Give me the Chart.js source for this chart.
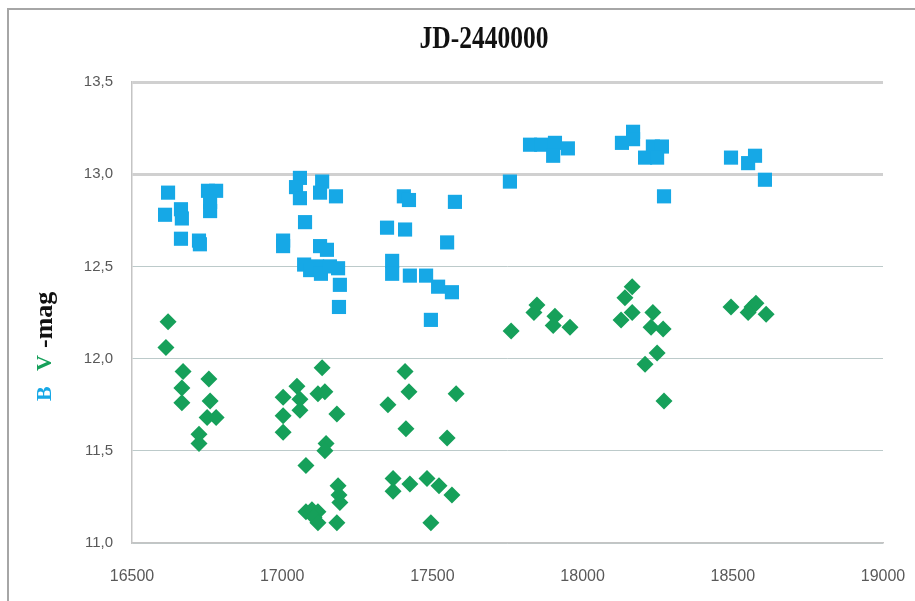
<!DOCTYPE html>
<html>
<head>
<meta charset="utf-8">
<script src="https://cdn.jsdelivr.net/npm/chart.js@4/dist/chart.umd.min.js"></script>
<style>
html,body{margin:0;padding:0;background:#fff;}
#wrap{width:915px;height:601px;position:relative;}
</style>
</head>
<body>
<div id="wrap"><canvas id="c" width="915" height="601"></canvas></div>
<script>
// ---- data ----
const chartTitle = "JD-2440000";
const yTitleParts = ["B", "V", "-mag"];
const xTicks = [16500, 17000, 17500, 18000, 18500, 19000];
const yTicks = [11.0, 11.5, 12.0, 12.5, 13.0, 13.5];

const bJD = [16620,16610,16663,16666,16663,16723,16726,16753,16780,16760,16760,
  17059,17046,17059,17133,17126,17179,17076,17003,17003,17126,17149,17073,17093,17116,17129,17159,17186,17192,17189,
  17405,17422,17575,17349,17409,17549,17366,17366,17425,17479,17519,17565,17495,
  17758,17825,17862,17908,17902,17951,
  18131,18168,18168,18208,18234,18264,18248,18271,
  18494,18551,18574,18607];
const bMag = [12.90,12.78,12.81,12.76,12.65,12.64,12.62,12.91,12.91,12.85,12.80,
  12.98,12.93,12.87,12.96,12.90,12.88,12.74,12.64,12.61,12.61,12.59,12.51,12.48,12.50,12.46,12.50,12.49,12.40,12.28,
  12.88,12.86,12.85,12.71,12.70,12.63,12.53,12.46,12.45,12.45,12.39,12.36,12.21,
  12.96,13.16,13.16,13.17,13.10,13.14,
  13.17,13.23,13.19,13.09,13.15,13.15,13.09,12.88,
  13.09,13.06,13.10,12.97];

const vJD = [16620,16613,16670,16666,16666,16756,16760,16750,16780,16723,16723,
  17133,17049,17003,17059,17059,17119,17142,17003,17003,17182,17146,17142,17079,17186,17189,17192,17079,17099,17119,17106,17119,17182,
  17409,17422,17352,17579,17412,17549,17369,17369,17425,17482,17522,17565,17495,
  17762,17848,17838,17908,17902,17958,
  18165,18141,18165,18128,18234,18228,18268,18248,18208,18271,
  18494,18564,18551,18577,18611];
const vMag = [12.20,12.06,11.93,11.84,11.76,11.89,11.77,11.68,11.68,11.59,11.54,
  11.95,11.85,11.79,11.78,11.72,11.81,11.82,11.69,11.60,11.70,11.54,11.50,11.42,11.31,11.26,11.22,11.17,11.18,11.17,11.14,11.11,11.11,
  11.93,11.82,11.75,11.81,11.62,11.57,11.35,11.28,11.32,11.35,11.31,11.26,11.11,
  12.15,12.29,12.25,12.23,12.18,12.17,
  12.39,12.33,12.25,12.21,12.25,12.17,12.16,12.03,11.97,11.77,
  12.28,12.28,12.25,12.30,12.24];

const BLUE = 'rgb(22,168,230)';
const GREEN = 'rgb(22,160,90)';

const toPts = (xs, ys) => xs.map((x, i) => ({x: x, y: ys[i]}));

const decor = {
  id: 'decor',
  beforeDraw(chart) {
    const ctx = chart.ctx;
    ctx.save();
    ctx.fillStyle = '#fff';
    ctx.fillRect(0, 0, chart.width, chart.height);
    ctx.strokeStyle = '#a6a6a6';
    ctx.lineWidth = 2;
    ctx.beginPath();
    ctx.moveTo(8, 700); ctx.lineTo(8, 9); ctx.lineTo(1000, 9);
    ctx.stroke();
    ctx.restore();
  },
  afterDraw(chart) {
    const ctx = chart.ctx;
    ctx.save();
    // title
    ctx.fillStyle = '#111';
    ctx.font = 'bold 30px "Liberation Serif"';
    ctx.textAlign = 'center';
    ctx.textBaseline = 'middle';
    ctx.translate(484, 40);
    ctx.scale(0.85, 1.05);
    ctx.fillText(chartTitle, 0, 0);
    ctx.restore();
    // y title
    ctx.save();
    ctx.translate(45, 0);
    ctx.rotate(-Math.PI / 2);
    ctx.textBaseline = 'middle';
    ctx.textAlign = 'left';
    const cols = [BLUE, GREEN, '#111'];
    const starts = [-401, -371, -348];
    const sizes = [22, 22, 26];
    yTitleParts.forEach((t, i) => {
      ctx.font = 'bold ' + sizes[i] + 'px "Liberation Serif"';
      ctx.fillStyle = cols[i];
      ctx.fillText(t, starts[i], 0);
    });
    ctx.restore();
  }
};

new Chart(document.getElementById('c'), {
  type: 'scatter',
  data: {
    datasets: [
      { label: 'B', data: toPts(bJD, bMag), pointStyle: 'rect', pointRadius: 10, pointHoverRadius: 10,
        backgroundColor: BLUE, borderWidth: 0, borderColor: BLUE },
      { label: 'V', data: toPts(vJD, vMag), pointStyle: 'rectRot', pointRadius: 8.5, pointHoverRadius: 8.5,
        backgroundColor: GREEN, borderWidth: 0, borderColor: GREEN }
    ]
  },
  options: {
    responsive: false,
    animation: false,
    events: [],
    layout: { padding: { left: 0, right: 32, top: 82, bottom: 0 } },
    plugins: { legend: { display: false }, tooltip: { enabled: false }, title: { display: false } },
    scales: {
      x: {
        type: 'linear', min: 16500, max: 19000,
        afterBuildTicks: s => { s.ticks = xTicks.map(v => ({value: v})); },
        afterFit: s => { s.height = 58; s.paddingLeft = 0; s.paddingRight = 0; },
        grid: { display: false, drawTicks: false },
        border: { display: true, color: '#c4c4c4', width: 1.5 },
        ticks: { padding: 24, color: '#595959', font: { family: '"Liberation Sans"', size: 16 },
          callback: v => String(v), maxRotation: 0 }
      },
      y: {
        type: 'linear', min: 11, max: 13.5,
        afterBuildTicks: s => { s.ticks = yTicks.map(v => ({value: v})); },
        afterFit: s => { s.width = 132; s.paddingTop = 0; s.paddingBottom = 0; },
        grid: {
          drawTicks: false,
          color: c => (c.tick && c.tick.value >= 13) ? '#d0d0d0' : '#bccaca',
          lineWidth: c => (c.tick && c.tick.value >= 13) ? 3 : 1
        },
        border: { display: true, color: '#c4c4c4', width: 1.5 },
        ticks: { padding: 19, color: '#595959', font: { family: '"Liberation Sans"', size: 15 },
          callback: v => v.toFixed(1).replace('.', ',') }
      }
    }
  },
  plugins: [decor]
});
</script>
</body>
</html>
